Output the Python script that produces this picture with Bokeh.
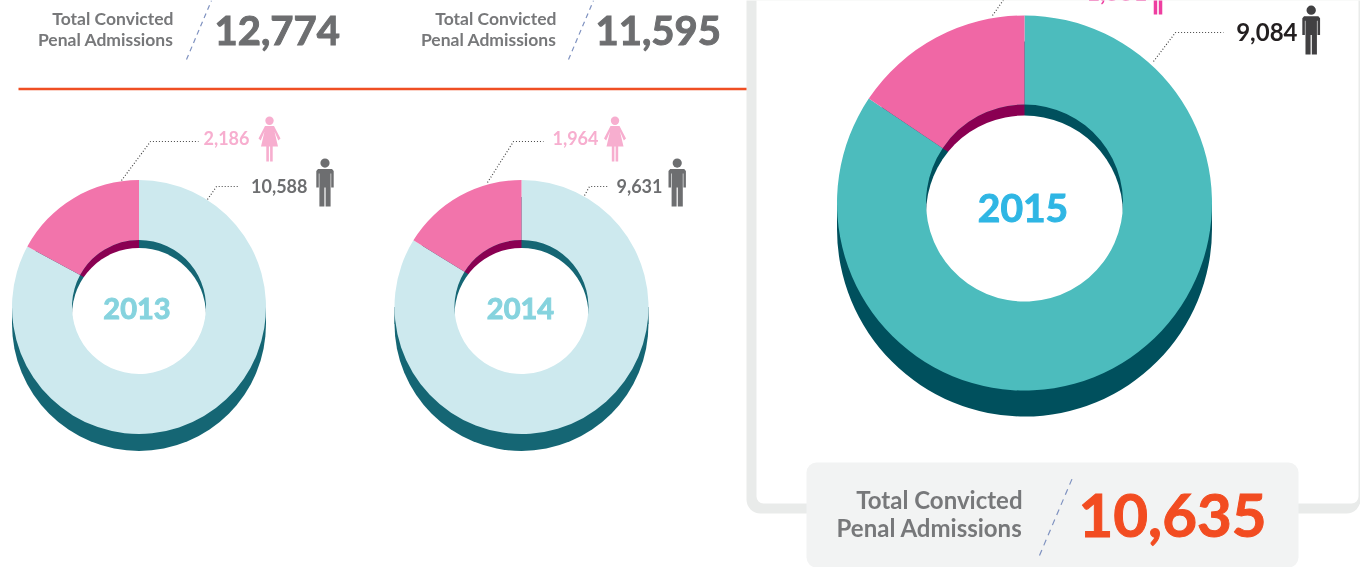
from bokeh.plotting import figure
from bokeh.models import Range1d
from bokeh.core.properties import value
from bokeh.embed import file_html
from bokeh.resources import INLINE
import math

# ---- data
years = ["2013", "2014", "2015"]
men = ["10,588", "9,631", "9,084"]
women = ["2,186", "1,964", "1,551"]
totals = ["12,774", "11,595", "10,635"]
women_share_pct = [17.1, 16.2, 15.6]
total_label = ["Total Convicted", "Penal Admissions"]

# ---- layout (screen pixels)
W, H = 1360, 567
DONUTS = [
    dict(cx=138.5, cy=306.5, r=127, ri=67, depth=17, wall=8, face="#cde9ee", wom="#f274ab", dark="#156674",
         wdark="#8a0052", ycol="#86d3de", yfs=29, cx_year=136.5, cy_year=308),
    dict(cx=521, cy=306.5, r=127, ri=67, depth=17, wall=8, face="#cde9ee", wom="#f274ab", dark="#156674",
         wdark="#8a0052", ycol="#86d3de", yfs=29, cx_year=520, cy_year=308),
    dict(cx=1024, cy=202.5, r=187.5, ri=98.5, depth=26, wall=11, face="#4cbcbd", wom="#f067a5", dark="#00505d",
         wdark="#8a0052", ycol="#2fb6e4", yfs=39, cx_year=1022.5, cy_year=207),
]

p = figure(width=W, height=H, output_backend="svg", toolbar_location=None,
           x_range=Range1d(0, W), y_range=Range1d(H, 0), min_border=0,
           x_axis_location=None, y_axis_location=None, outline_line_color=None,
           background_fill_color="white", border_fill_color="white")
p.grid.visible = False
p.styles = {"position": "fixed", "left": "0px", "top": "0px"}


def txt(x, y, s, size, color, align="left", font="Lato", heavy=False):
    p.text([x], [y], text=[s], text_font=value(font), text_font_style="bold",
           text_font_size=f"{size}px", text_color=color, text_align=align, text_baseline="middle",
           text_outline_color=color if heavy else None)


# ---- 2015 panel
p.quad(left=[746], right=[1360], top=[-60], bottom=[513], fill_color="#e9ebea", line_color=None, border_radius=14)
p.quad(left=[756], right=[1358], top=[-60], bottom=[503], fill_color="white", line_color=None, border_radius=7)
p.quad(left=[806], right=[1298], top=[462], bottom=[567], fill_color="#f2f3f3", line_color=None, border_radius=10)

# ---- separator
p.line([18, 746], [88.5, 88.5], line_color="#ef4e23", line_width=2.5)

# ---- donuts
for d, pct in zip(DONUTS, women_share_pct):
    cx, cy, r, ri = d["cx"], d["cy"], d["r"], d["ri"]
    top = math.pi / 2
    split = top + math.radians(pct * 3.6)
    # extruded side
    p.circle([cx], [cy + d["depth"]], radius=r, fill_color=d["dark"], line_color=None)
    p.quad(left=[cx - r], right=[cx + r], top=[cy], bottom=[cy + d["depth"]], fill_color=d["dark"], line_color=None)
    # inner wall
    p.wedge([cx], [cy], radius=ri, start_angle=split, end_angle=top + 2 * math.pi,
            fill_color=d["dark"], line_color=None)
    p.wedge([cx], [cy], radius=ri, start_angle=top, end_angle=split, fill_color=d["wdark"], line_color=None)
    p.circle([cx], [cy + d["wall"]], radius=ri, fill_color="white", line_color=None)
    # top face
    p.annular_wedge([cx], [cy], inner_radius=ri, outer_radius=r, start_angle=split, end_angle=top + 2 * math.pi,
                    fill_color=d["face"], line_color=None)
    p.annular_wedge([cx], [cy], inner_radius=ri, outer_radius=r, start_angle=top, end_angle=split,
                    fill_color=d["wom"], line_color=None)

for d, y in zip(DONUTS, years):
    txt(d["cx_year"], d["cy_year"], y, d["yfs"], d["ycol"], "center", heavy=True)


# ---- icons
def male(cx, top, h, color):
    s = h / 48
    p.circle([cx], [top + 4.6 * s], radius=4.6 * s, fill_color=color, line_color=None)
    xs = [-7, -8.7, -8.7, -6.2, -6.2, -5.6, -5.6, -0.6, -0.6, 0.6, 0.6, 5.6, 5.6, 6.2, 6.2, 8.7, 8.7, 7]
    ys = [10.5, 12.5, 29, 29, 15, 15, 48, 48, 29, 29, 48, 48, 15, 15, 29, 29, 12.5, 10.5]
    p.patch([cx + a * s for a in xs], [top + b * s for b in ys], fill_color=color, line_color=None)


def female(cx, top, h, color):
    s = h / 45
    p.circle([cx], [top + 4.2 * s], radius=4.2 * s, fill_color=color, line_color=None)
    xs = [-4.5, -11, -8.8, -5, -8.5, -3.2, -3.2, -0.6, -0.6, 0.6, 0.6, 3.2, 3.2, 8.5, 5, 8.8, 11, 4.5]
    ys = [9.5, 22, 24, 15, 30, 30, 45, 45, 30, 30, 45, 45, 30, 30, 15, 24, 22, 9.5]
    p.patch([cx + a * s for a in xs], [top + b * s for b in ys], fill_color=color, line_color=None)


FPINK, MGREY = "#f7aecf", "#6d6e70"
female(269, 116, 45, FPINK)
female(614.5, 116, 45, FPINK)
female(1157.5, -46, 60, "#ee3ea0")
male(324.5, 158, 48, MGREY)
male(676.7, 158, 48, MGREY)
male(1310.7, 5, 49, "#414042")

# ---- leader lines
LEADERS = [
    ([121, 150, 198], [180, 141, 141]),
    ([207, 216, 238], [199, 186, 186]),
    ([487, 513, 543], [182, 141, 141]),
    ([584, 589, 608], [195, 186, 186]),
    ([1153, 1175, 1223], [61, 32, 32]),
    ([992, 1004], [15, -2]),
]
for xs, ys in LEADERS:
    p.line(xs, ys, line_color="#444444", line_width=1.2, line_dash="1 2")

# ---- men / women labels
txt(203, 137.5, women[0], 18, FPINK)
txt(598, 137.5, women[1], 18, FPINK, "right")
txt(1147, -9, women[2], 24, "#ee3ea0", "right")
txt(307, 185.5, men[0], 18, MGREY, "right")
txt(662, 185.5, men[1], 18, MGREY, "right")
txt(1297, 31.5, men[2], 24, "#231f20", "right")

# ---- totals
GREY = "#77787a"
DASH = "#7f92c0"
for (tx, nx, dx), tot in zip([(173, 214, 186), (556, 595, 568)], totals[:2]):
    txt(tx, 17.5, total_label[0], 17.5, GREY, "right")
    txt(tx, 39, total_label[1], 17.5, GREY, "right")
    txt(nx, 30, tot, 40, MGREY, heavy=True)
    p.line([dx, dx + 25], [59, 0], line_color=DASH, line_width=1.2, line_dash="5 4")

txt(1022, 498.5, total_label[0], 24, GREY, "right")
txt(1022, 526.5, total_label[1], 24, GREY, "right")
txt(1078, 515, totals[2], 60, "#f24c21", heavy=True)
p.line([1039, 1073], [555, 475], line_color=DASH, line_width=1.2, line_dash="6 5")

open("out.html", "w").write(file_html(p, INLINE))
